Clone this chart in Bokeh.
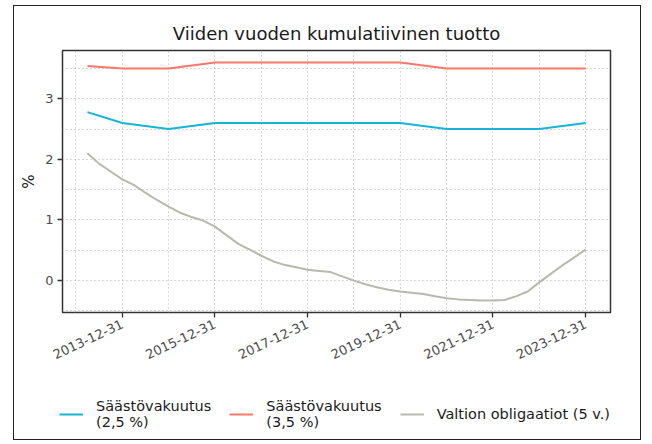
import math
import pandas as pd
from bokeh.plotting import figure
from bokeh.layouts import column
from bokeh.models import (Range1d, FixedTicker, DatetimeTickFormatter, Legend, LegendItem)
from bokeh.embed import file_html
from bokeh.resources import INLINE

# ---- data ----
title_text = "Viiden vuoden kumulatiivinen tuotto"
y_label = "%"

rate_dates = ["2013-03-31", "2013-12-31", "2014-12-31", "2015-12-31", "2016-12-31",
              "2017-12-31", "2018-12-31", "2019-12-31", "2020-12-31", "2021-12-31",
              "2022-12-31", "2023-12-31"]
savings_25 = [2.78, 2.60, 2.50, 2.60, 2.60, 2.60, 2.60, 2.60, 2.50, 2.50, 2.50, 2.60]
savings_35 = [3.54, 3.50, 3.50, 3.60, 3.60, 3.60, 3.60, 3.60, 3.50, 3.50, 3.50, 3.50]

bond_dates = ["2013-03-31", "2013-06-30", "2013-09-30", "2013-12-31",
              "2014-03-31", "2014-06-30", "2014-09-30", "2014-12-31",
              "2015-03-31", "2015-06-30", "2015-09-30", "2015-12-31",
              "2016-03-31", "2016-06-30", "2016-09-30", "2016-12-31",
              "2017-03-31", "2017-06-30", "2017-09-30", "2017-12-31",
              "2018-03-31", "2018-06-30", "2018-09-30", "2018-12-31",
              "2019-03-31", "2019-06-30", "2019-09-30", "2019-12-31",
              "2020-03-31", "2020-06-30", "2020-09-30", "2020-12-31",
              "2021-03-31", "2021-06-30", "2021-09-30", "2021-12-31",
              "2022-03-31", "2022-06-30", "2022-09-30", "2022-12-31",
              "2023-03-31", "2023-06-30", "2023-09-30", "2023-12-31"]
gov_bonds = [2.10, 1.93, 1.80, 1.67,
             1.58, 1.45, 1.33, 1.22,
             1.12, 1.05, 0.99, 0.89,
             0.75, 0.61, 0.51, 0.41,
             0.32, 0.26, 0.22, 0.18,
             0.16, 0.14, 0.07, 0.00,
             -0.06, -0.11, -0.15, -0.18,
             -0.20, -0.22, -0.26, -0.29,
             -0.31, -0.32, -0.33, -0.33,
             -0.32, -0.26, -0.18, -0.03,
             0.11, 0.25, 0.38, 0.51]

series_names = ["Säästövakuutus\n(2,5 %)", "Säästövakuutus\n(3,5 %)", "Valtion obligaatiot (5 v.)"]
series_colors = ["#17B4D6", "#F8786C", "#B6BAAC"]

x_tick_labels = ["2013-12-31", "2015-12-31", "2017-12-31", "2019-12-31", "2021-12-31", "2023-12-31"]
x_minor_labels = ["2012-12-31", "2014-12-31", "2016-12-31", "2018-12-31", "2020-12-31", "2022-12-31"]
y_ticks = [0, 1, 2, 3]
y_minor_ticks = [-0.5, 0.5, 1.5, 2.5, 3.5]

FONT = "DejaVu Sans"

# ---- ranges (ggplot-like 5% expansion) ----
rd = pd.to_datetime(rate_dates)
bd = pd.to_datetime(bond_dates)
xmin = min(rd.min(), bd.min())
xmax = max(rd.max(), bd.max())
xspan = xmax - xmin
all_y = savings_25 + savings_35 + gov_bonds
ymin, ymax = min(all_y), max(all_y)
yspan = ymax - ymin

p = figure(width=626, height=366, x_axis_type="datetime",
           x_range=Range1d(xmin - 0.05 * xspan, xmax + 0.05 * xspan),
           y_range=Range1d(ymin - 0.05 * yspan, ymax + 0.05 * yspan),
           output_backend="svg", toolbar_location=None,
           min_border_left=48, min_border_right=30, min_border_top=44, min_border_bottom=60,
           background_fill_color="white", border_fill_color="white")

r1 = p.line(rd, savings_25, line_color=series_colors[0], line_width=2)
r2 = p.line(rd, savings_35, line_color=series_colors[1], line_width=2)
r3 = p.line(bd, gov_bonds, line_color=series_colors[2], line_width=2)

# title
p.title.text = title_text
p.title.align = "center"
p.title.text_font = FONT
p.title.text_font_size = "18px"
p.title.text_font_style = "normal"
p.title.text_color = "#1a1a1a"
p.title.standoff = 13

# axes
def ms(s):
    return pd.Timestamp(s).value // 10**6

p.xaxis.ticker = FixedTicker(ticks=[ms(s) for s in x_tick_labels],
                             minor_ticks=[ms(s) for s in x_minor_labels])
fmt = "%Y-%m-%d"
p.xaxis.formatter = DatetimeTickFormatter(microseconds=fmt, milliseconds=fmt, seconds=fmt,
                                          minsec=fmt, minutes=fmt, hourmin=fmt, hours=fmt,
                                          days=fmt, months=fmt, years=fmt)
p.xaxis.major_label_orientation = math.radians(25)
p.yaxis.ticker = FixedTicker(ticks=y_ticks, minor_ticks=y_minor_ticks)
p.yaxis.axis_label = y_label

for ax in (p.xaxis[0], p.yaxis[0]):
    ax.axis_line_color = None
    ax.major_tick_line_color = "#333333"
    ax.major_tick_line_width = 1.3
    ax.major_tick_in = 0
    ax.major_tick_out = 5
    ax.minor_tick_line_color = None
    ax.major_label_text_font = FONT
    ax.major_label_text_font_size = "13px"
    ax.major_label_text_color = "#4d4d4d"
    ax.major_label_standoff = 4
    ax.axis_label_text_font = FONT
    ax.axis_label_text_font_size = "15px"
    ax.axis_label_text_font_style = "normal"
    ax.axis_label_text_color = "#1a1a1a"
p.xaxis.major_label_standoff = 6
p.yaxis.axis_label_standoff = 4

for g in (p.xgrid[0], p.ygrid[0]):
    g.grid_line_color = "#b0b0b0"
    g.grid_line_dash = "1 3"
    g.grid_line_width = 1
    g.minor_grid_line_color = "#b0b0b0"
    g.minor_grid_line_dash = "1 3"
    g.minor_grid_line_width = 1

p.outline_line_color = "#333333"
p.outline_line_width = 1.5

# ---- legend panel (separate figure so nothing is clipped) ----
L = figure(width=626, height=67, x_range=(0, 1), y_range=(0, 1),
           output_backend="svg", toolbar_location=None,
           min_border=0, x_axis_location=None, y_axis_location=None,
           background_fill_color="white", border_fill_color="white")
L.frame_align = False
L.xgrid.visible = False
L.ygrid.visible = False
L.outline_line_color = None
# single-point proxies: nothing drawn in the panel, only used for legend keys
k1 = L.line([0], [0], line_color=series_colors[0], line_width=2)
k2 = L.line([0], [0], line_color=series_colors[1], line_width=2)
k3 = L.line([0], [0], line_color=series_colors[2], line_width=2)

legend = Legend(items=[LegendItem(label=series_names[0], renderers=[k1]),
                       LegendItem(label=series_names[1], renderers=[k2]),
                       LegendItem(label=series_names[2], renderers=[k3])],
                orientation="horizontal", location=(45, 9),
                padding=0, margin=0, spacing=18, glyph_width=24, label_standoff=13,
                border_line_color=None, background_fill_alpha=0,
                label_text_font=FONT, label_text_font_size="14.5px",
                label_text_line_height=1.35, label_text_color="#1a1a1a")
L.add_layout(legend, "center")

layout = column(p, L, styles={"margin-left": "13px", "margin-top": "5px",
                              "border": "1px solid #222222"})

open("out.html", "w").write(file_html(layout, INLINE))
